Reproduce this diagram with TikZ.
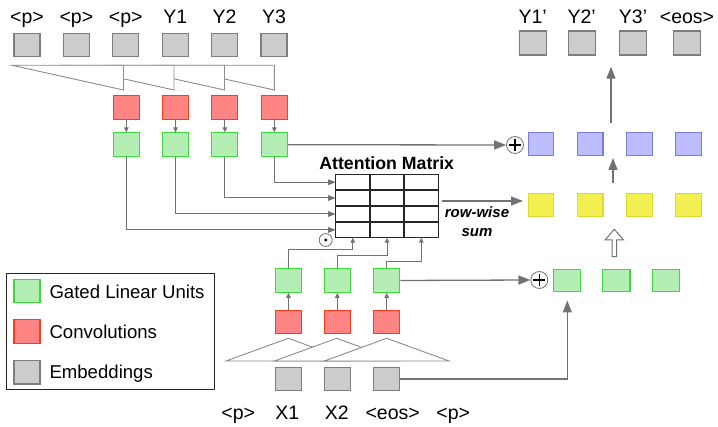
\documentclass[tikz,border=0pt]{standalone}
\usepackage{fontspec}
\setmainfont{Liberation Sans}
\usetikzlibrary{arrows.meta,calc}
\definecolor{lnc}{HTML}{727272}
\definecolor{trc}{HTML}{8C8C8C}
\definecolor{embF}{HTML}{CCCCCC}
\definecolor{embD}{HTML}{7E7E7E}
\definecolor{convF}{HTML}{FF8585}
\definecolor{convD}{HTML}{FF3A1A}
\definecolor{gluF}{HTML}{B4EEB4}
\definecolor{gluD}{HTML}{3ADB3A}
\definecolor{bluF}{HTML}{BDBDFF}
\definecolor{bluD}{HTML}{7A7ADF}
\definecolor{yelF}{HTML}{F2F050}
\definecolor{yelD}{HTML}{DADA30}
\newcommand\lblfont{\fontsize{19.5}{22}\selectfont}
\newcommand\legfont{\fontsize{18.6}{21}\selectfont}
\begin{document}
\begin{tikzpicture}[x=1pt,y=-1pt,
  box/.style={line width=1.1pt, minimum width=26pt, minimum height=23.5pt, inner sep=0pt},
  emb/.style={box, fill=embF, draw=embD},
  conv/.style={box, fill=convF, draw=convD},
  glu/.style={box, fill=gluF, draw=gluD},
  blu/.style={box, fill=bluF, draw=bluD},
  yel/.style={box, fill=yelF, draw=yelD},
  lbl/.style={anchor=base, inner sep=0pt, font=\lblfont},
  leg/.style={anchor=base west, inner sep=0pt, font=\legfont},
  tri/.style={draw=trc, line width=0.9pt, fill=white, line join=miter},
  conn/.style={draw=lnc, line width=1pt},
  sarr/.style={conn, -{Triangle[length=5pt,width=4.5pt]}},
  marr/.style={conn, -{Triangle[length=7.5pt,width=5.5pt]}},
  barr/.style={conn, line width=1.3pt, -{Triangle[length=12pt,width=9pt]}},
  oplus/.style={circle, draw=lnc, line width=0.8pt, minimum size=17pt, inner sep=0pt, fill=white,
    path picture={\draw[black,line width=1.2pt]
      ([xshift=-6pt]path picture bounding box.center) -- ([xshift=6pt]path picture bounding box.center)
      ([yshift=-6pt]path picture bounding box.center) -- ([yshift=6pt]path picture bounding box.center);}},
  odot/.style={circle, draw=lnc, line width=0.8pt, minimum size=13pt, inner sep=0pt, fill=white,
    path picture={\fill[black] (path picture bounding box.center) circle (1.7pt);}}
]
\useasboundingbox (0,0) rectangle (718,427);

% ---------- top-left embeddings ----------
\foreach \i/\t [evaluate=\i as \xx using 27+49.4*(\i-1)] in {1/<p>,2/<p>,3/<p>,4/Y1,5/Y2,6/Y3}{
  \node[lbl] (tl\i) at (\xx,24) {\t};
  \node[emb] (te\i) at (\xx,45) {};
}
% triangles (drawn back to front)
\foreach \k/\r in {4/274.3,3/224.5,2/174,1/123.5}{
  \path[tri] (\r-111.5,65.3) -- (\r,65.3) -- (\r,90) -- cycle;
}
% conv + glu top
\foreach \i/\xx in {1/126.3,2/175.5,3/224.9,4/274.3}{
  \node[conv] (tc\i) at (\xx,107.5) {};
  \node[glu] (tg\i) at (\xx,144.7) {};
  \draw[sarr] (tc\i.south) -- (tg\i.north);
}

% ---------- attention matrix ----------
\node[draw=black!85, line width=1.2pt, minimum width=102.6pt, minimum height=63.4pt, inner sep=0pt] (att) at (387,206) {};
\draw[black!85, line width=1.1pt] (370,174.3) -- (370,237.7) (404,174.3) -- (404,237.7)
  (335.7,190) -- (438.3,190) (335.7,206) -- (438.3,206) (335.7,222) -- (438.3,222);
\node[anchor=base, inner sep=0pt, font=\fontsize{17.7}{20}\selectfont\bfseries] (atttitle) at (386.7,170) {Attention Matrix};
\coordinate (r1) at (335.7,182.2);
\coordinate (r2) at (335.7,198);
\coordinate (r3) at (335.7,214);
\coordinate (r4) at (335.7,229.9);
\coordinate (c1) at (352.8,237.7);
\coordinate (c2) at (387,237.7);
\coordinate (c3) at (421.3,237.7);
\draw[marr] (tg4.south) |- (r1);
\draw[marr] (tg3.south) |- (r2);
\draw[marr] (tg2.south) |- (r3);
\draw[marr] (tg1.south) |- (r4);
\node[odot] (od) at (325.7,240) {};

% ---------- bottom encoder ----------
\foreach \i/\t/\xx in {1/<p>/238.3,2/X1/287.3,3/X2/336.7,4/<eos>/392.7,5/<p>/453.3}{
  \node[lbl] (bl\i) at (\xx,420) {\t};
}
\foreach \i/\xx in {1/288.5,2/337.3,3/386.7}{
  \node[emb] (be\i) at (\xx,379) {};
}
\foreach \xx in {288.3,336.7,386.7}{
  \path[tri] (\xx-62.3,361) -- (\xx,338.3) -- (\xx+62.3,361) -- cycle;
}
\foreach \i/\xx in {1/288.5,2/337.3,3/386.7}{
  \node[conv] (bc\i) at (\xx,322.2) {};
  \node[glu] (bg\i) at (\xx,280.5) {};
  \draw[sarr] (bc\i.north) -- (bg\i.south);
}
\draw[sarr] (bg1.north) -- ++(0,-18.6) -| (c1);
\draw[sarr] (bg2.north) -- ++(0,-12.6) -| (c2);
\draw[sarr] (bg3.north) -- ++(0,-6.6) -| (c3);

% ---------- right side ----------
\foreach \i/\t/\xx in {1/Y1’/532.7,2/Y2’/581.7,3/Y3’/633,4/<eos>/687}{
  \node[lbl] (rl\i) at (\xx,23.5) {\t};
  \node[emb, minimum width=27pt, minimum height=24pt] (re\i) at (\xx,43) {};
}
\foreach \i/\xx in {1/541,2/590.2,3/639.4,4/688.6}{
  \node[blu, minimum width=25.5pt, minimum height=23pt] (rb\i) at (\xx,144.2) {};
  \node[yel, minimum width=25.5pt, minimum height=23pt] (ry\i) at (\xx,205) {};
}
\node[oplus] (op1) at (515,145) {};
\draw[barr] (tg4.east) -- (op1.west);

\coordinate (ub1) at (611,123);
\coordinate (ub2) at (611,66.7);
\draw[barr] (ub1) -- (ub2);
\coordinate (uy1) at (613,183);
\coordinate (uy2) at (613,158);
\draw[barr] (uy1) -- (uy2);

\coordinate (ms) at (442,201);
\coordinate (me) at (523,201);
\draw[barr] (ms) -- (me);
\node[anchor=base, inner sep=0pt, font=\fontsize{15}{17}\selectfont\bfseries\itshape] (rw1) at (477,217.5) {row-wise};
\node[anchor=base, inner sep=0pt, font=\fontsize{15}{17}\selectfont\bfseries\itshape] (rw2) at (477,236.5) {sum};

% hollow arrow
\draw[lnc, line width=1pt, fill=white, line join=miter]
  (612,256.7) -- (612,240) -- (605,240) -- (614.3,229.3) -- (623.6,240) -- (616.6,240) -- (616.6,256.7) -- cycle;

\foreach \i/\xx in {1/567,2/616.3,3/666}{
  \node[glu, minimum width=27.4pt, minimum height=22.4pt] (rg\i) at (\xx,280.5) {};
}
\node[oplus] (op2) at (539.3,280) {};
\draw[barr] (bg3.east) -- (op2.west);
\coordinate (up) at (567.3,300.5);
\draw[barr] (be3.east) -| (up);

% ---------- legend ----------
\node[draw=black!85, line width=1pt, minimum width=208pt, minimum height=116.7pt, inner sep=0pt] (legbox) at (110.7,331.65) {};
\node[glu] (lg) at (27,291) {};
\node[conv] (lc) at (27,331.7) {};
\node[emb] (le) at (27,372.3) {};
\node[leg] (lgt) at (49.3,298.3) {Gated Linear Units};
\node[leg] (lct) at (49.3,338.3) {Convolutions};
\node[leg] (let) at (49.3,378.3) {Embeddings};
\end{tikzpicture}
\end{document}
